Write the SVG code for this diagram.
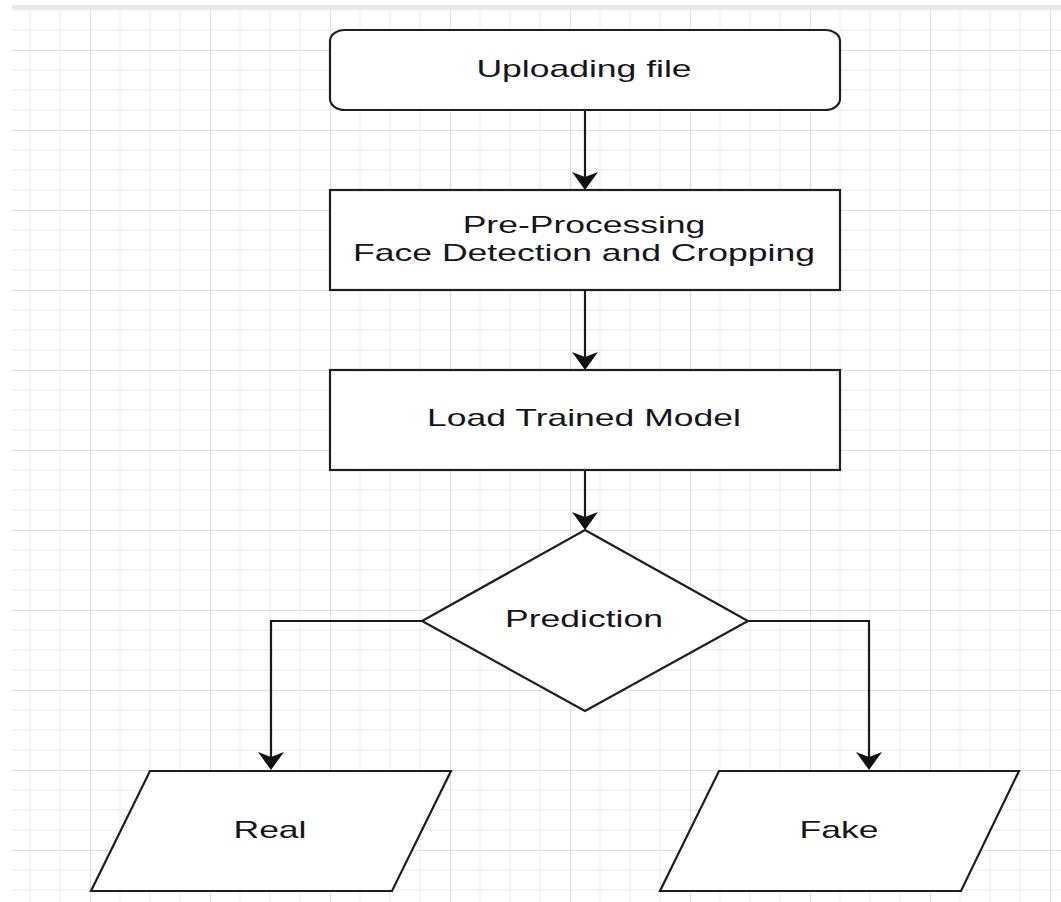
<svg xmlns="http://www.w3.org/2000/svg" width="1061" height="902" viewBox="0 0 1061 902">
  <defs>
    <!-- canvas grid: minor cells 30x20, major every 4 cells -->
    <pattern id="grid" patternUnits="userSpaceOnUse" x="90" y="50" width="120" height="80">
      <path d="M30 0V80M60 0V80M90 0V80" stroke="#f5f5f5" stroke-width="2" fill="none"/>
      <path d="M0 20H120M0 40H120M0 60H120" stroke="#f3f3f3" stroke-width="2" fill="none"/>
      <path d="M0 0V80M0 0H120" stroke="#dfdfdf" stroke-width="2" fill="none"/>
    </pattern>
  </defs>
  <style>
    .shape { fill: #ffffff; stroke: #1e1e1e; stroke-width: 2.2; }
    .edge { fill: none; stroke: #1a1a1a; stroke-width: 2.2; }
    .head { fill: #111111; }
    .t { font-family: "Liberation Sans", Arial, sans-serif; font-size: 24px; fill: #151520; text-anchor: middle; }
  </style>

  <rect width="1061" height="902" fill="#ffffff"/>
  <rect x="12" y="9" width="1049" height="893" fill="url(#grid)"/>
  <rect x="12" y="5" width="1049" height="4" fill="#e8e8e8"/>

  <g id="connectors">
    <path class="edge" d="M585 110V178"/>
    <path class="head" d="M585 190L572 172L585 177L598 172Z"/>
    <path class="edge" d="M585 290V358"/>
    <path class="head" d="M585 370L572 352L585 357L598 352Z"/>
    <path class="edge" d="M585 470V518"/>
    <path class="head" d="M585 530L572 512L585 517L598 512Z"/>
    <path class="edge" d="M422 621H271V758"/>
    <path class="head" d="M271 770L258 752L271 757L284 752Z"/>
    <path class="edge" d="M748 621H869V758"/>
    <path class="head" d="M869 770L856 752L869 757L882 752Z"/>
  </g>

  <g id="upload">
    <rect class="shape" x="330" y="30" width="510" height="80" rx="15" ry="11"/>
    <text class="t" transform="translate(584,77) scale(1.48,1)">Uploading file</text>
  </g>

  <g id="preprocess">
    <rect class="shape" x="330" y="190" width="510" height="100"/>
    <text class="t" transform="translate(584,233) scale(1.48,1)">Pre-Processing</text>
    <text class="t" transform="translate(584,261) scale(1.48,1)">Face Detection and Cropping</text>
  </g>

  <g id="model">
    <rect class="shape" x="330" y="370" width="510" height="100"/>
    <text class="t" transform="translate(584,426) scale(1.48,1)">Load Trained Model</text>
  </g>

  <g id="prediction">
    <path class="shape" d="M585 530L748 621L585 711L422 621Z"/>
    <text class="t" transform="translate(584,627) scale(1.48,1)">Prediction</text>
  </g>

  <g id="real">
    <path class="shape" d="M150 771H451L392 891H91Z"/>
    <text class="t" transform="translate(270,838) scale(1.48,1)">Real</text>
  </g>

  <g id="fake">
    <path class="shape" d="M719 771H1019L961 891H660Z"/>
    <text class="t" transform="translate(839,838) scale(1.48,1)">Fake</text>
  </g>
</svg>
